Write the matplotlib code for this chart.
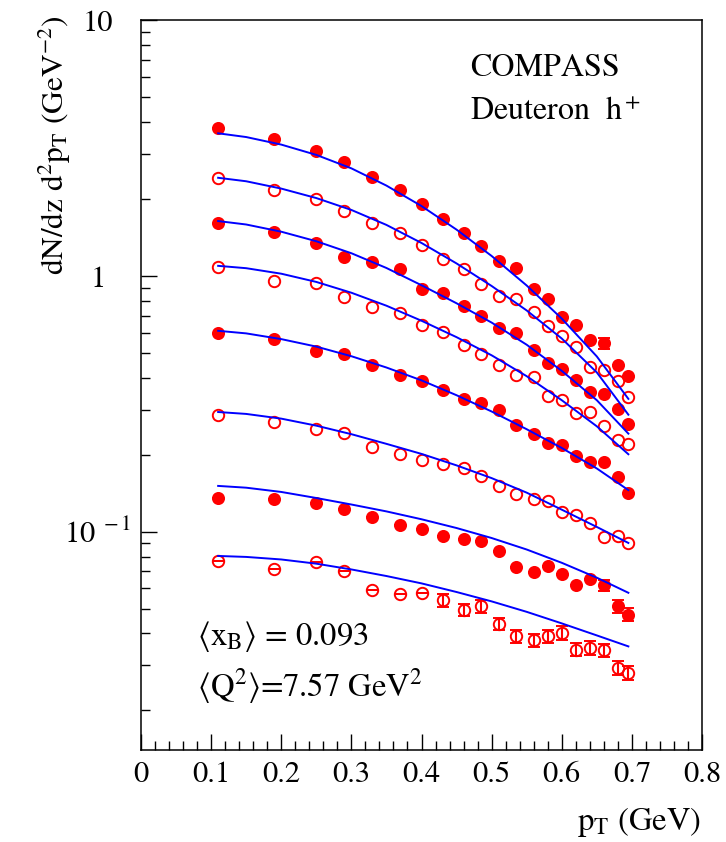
# COMPASS deuteron h+ multiplicities vs p_T, with fit curves.

import matplotlib

matplotlib.use("Agg")
import matplotlib.pyplot as plt
from matplotlib.ticker import FixedLocator, FixedFormatter, LogLocator, MultipleLocator, NullFormatter

plt.rcParams["font.family"] = "STIXGeneral"
plt.rcParams["mathtext.fontset"] = "stix"


# --- Data ---

pt = [0.11, 0.19, 0.25, 0.29, 0.33, 0.37, 0.40, 0.43, 0.46, 0.485,
      0.51, 0.535, 0.56, 0.58, 0.60, 0.62, 0.64, 0.66, 0.68, 0.695]

# z bins from top to bottom, alternating filled / open markers
mult_1 = [3.79, 3.43, 3.09, 2.79, 2.45, 2.18, 1.91, 1.667, 1.477, 1.314,
          1.145, 1.072, 0.889, 0.813, 0.693, 0.643, 0.562, 0.545, 0.448, 0.407]
mult_2 = [2.41, 2.17, 2.00, 1.796, 1.617, 1.477, 1.326, 1.162, 1.065, 0.928,
          0.837, 0.811, 0.725, 0.637, 0.584, 0.529, 0.442, 0.429, 0.389, 0.337]
mult_3 = [1.617, 1.491, 1.343, 1.190, 1.131, 1.062, 0.888, 0.856, 0.763, 0.697,
          0.627, 0.600, 0.516, 0.458, 0.433, 0.394, 0.352, 0.347, 0.302, 0.265]
mult_4 = [1.087, 0.953, 0.941, 0.825, 0.758, 0.718, 0.645, 0.602, 0.540, 0.495,
          0.448, 0.410, 0.404, 0.339, 0.329, 0.292, 0.294, 0.260, 0.228, 0.220]
mult_5 = [0.600, 0.567, 0.510, 0.498, 0.448, 0.410, 0.388, 0.358, 0.332, 0.320,
          0.299, 0.261, 0.241, 0.223, 0.218, 0.197, 0.187, 0.188, 0.163, 0.142]
mult_6 = [0.286, 0.269, 0.253, 0.244, 0.2136, 0.2023, 0.190, 0.1837, 0.1783, 0.1649,
          0.1511, 0.1402, 0.1337, 0.1317, 0.1196, 0.1160, 0.1082, 0.0954, 0.0960, 0.0904]
mult_7 = [0.1356, 0.1349, 0.1301, 0.1225, 0.1137, 0.1067, 0.1021, 0.0960, 0.0940, 0.0920,
          0.0839, 0.0728, 0.0696, 0.0733, 0.0686, 0.0617, 0.0652, 0.0617, 0.0511, 0.0474]
mult_8 = [0.0769, 0.0718, 0.0758, 0.0702, 0.0590, 0.0569, 0.0577, 0.0539, 0.0496, 0.0511,
          0.0437, 0.0390, 0.0376, 0.0390, 0.0402, 0.0346, 0.0351, 0.0344, 0.0294, 0.0281]

# relative errors (only the visible ones; the rest hide behind the markers)
rel_err_1 = [0] * 17 + [0.05, 0, 0]
rel_err_7 = [0] * 17 + [0.05, 0.055, 0.06]
rel_err_8 = [0.0] * 7 + [0.055, 0.055, 0.055, 0.055, 0.06, 0.06, 0.06,
                          0.06, 0.06, 0.06, 0.06, 0.065, 0.065]

# fit curves
pt_fit = [0.11, 0.15, 0.2, 0.25, 0.3, 0.35, 0.4, 0.45, 0.5, 0.55, 0.6, 0.65, 0.695]
fit_1 = [3.62, 3.50, 3.27, 2.98, 2.64, 2.26, 1.88, 1.52, 1.199, 0.919, 0.682, 0.485, 0.331]
fit_2 = [2.425, 2.35, 2.20, 2.02, 1.815, 1.586, 1.348, 1.121, 0.915, 0.734, 0.570, 0.420, 0.287]
fit_3 = [1.642, 1.592, 1.492, 1.369, 1.229, 1.076, 0.921, 0.783, 0.658, 0.539, 0.426, 0.327, 0.242]
fit_4 = [1.097, 1.074, 1.022, 0.949, 0.861, 0.766, 0.669, 0.577, 0.490, 0.406, 0.327, 0.2585, 0.201]
fit_5 = [0.611, 0.597, 0.567, 0.530, 0.486, 0.439, 0.391, 0.342, 0.2954, 0.2518, 0.2127, 0.1768, 0.1455]
fit_6 = [0.294, 0.289, 0.277, 0.260, 0.2408, 0.2207, 0.2016, 0.1818, 0.1621, 0.1422, 0.1220, 0.1044, 0.0904]
fit_7 = [0.1511, 0.1487, 0.1431, 0.1355, 0.1278, 0.1201, 0.1119, 0.1034, 0.0945, 0.0852, 0.0756, 0.0661, 0.0577]
fit_8 = [0.0804, 0.0797, 0.0779, 0.0750, 0.0712, 0.0671, 0.0628, 0.0581, 0.0534, 0.0486, 0.0438, 0.0393, 0.0356]

x_ticks = [0, 0.1, 0.2, 0.3, 0.4, 0.5, 0.6, 0.7, 0.8]
x_tick_labels = ["0", "0.1", "0.2", "0.3", "0.4", "0.5", "0.6", "0.7", "0.8"]
y_ticks = [0.1, 1, 10]
y_tick_labels = [r"$10^{\,\,-1}$", "1", "10"]


# --- Plotting ---


def draw_series(ax, y, filled, rel_err=None):
    err = None
    if rel_err is not None:
        err = [v * e for v, e in zip(y, rel_err)]
    ax.errorbar(
        pt, y, yerr=err,
        fmt="o", color="red", ecolor="red",
        markersize=8.0 if filled else 8.2,
        markerfacecolor="red" if filled else "none",
        markeredgewidth=1.4,
        elinewidth=1.5, capsize=4.3, capthick=1.5,
        zorder=2,
    )


fig = plt.figure(figsize=(7.26, 8.42), dpi=100)
ax = fig.add_axes([141 / 726, 1 - 750 / 842, 561 / 726, 729.5 / 842])
ax.set_yscale("log")

series = [
    (mult_1, fit_1, True, rel_err_1),
    (mult_2, fit_2, False, None),
    (mult_3, fit_3, True, None),
    (mult_4, fit_4, False, None),
    (mult_5, fit_5, True, None),
    (mult_6, fit_6, False, None),
    (mult_7, fit_7, True, rel_err_7),
    (mult_8, fit_8, False, rel_err_8),
]
for y, fit, filled, rel_err in series:
    draw_series(ax, y, filled, rel_err)
    ax.plot(pt_fit, fit, color="blue", linewidth=1.4, zorder=3)

ax.set_xlim(0, 0.8)
ax.set_ylim(0.014, 10)

ax.xaxis.set_major_locator(FixedLocator(x_ticks))
ax.xaxis.set_major_formatter(FixedFormatter(x_tick_labels))
ax.xaxis.set_minor_locator(MultipleLocator(0.02))
ax.yaxis.set_major_locator(FixedLocator(y_ticks))
ax.yaxis.set_major_formatter(FixedFormatter(y_tick_labels))
ax.yaxis.set_minor_locator(LogLocator(base=10, subs=range(2, 10)))
ax.yaxis.set_minor_formatter(NullFormatter())

ax.tick_params(which="both", direction="in", top=False, right=False, width=1.0)
ax.tick_params(which="major", length=11.5, labelsize=22)
ax.tick_params(which="minor", length=6.5)
ax.tick_params(axis="x", which="major", pad=8)
ax.tick_params(axis="y", which="major", pad=31)
for lab in ax.get_yticklabels():
    lab.set_horizontalalignment("center")
for sp in ax.spines.values():
    sp.set_linewidth(1.1)

# labels and annotations
fig.text(55 / 726, 1 - 15 / 842, r"dN/dz d$^2$p$_\mathrm{T}$ (GeV$^{-2}$)",
         rotation=90, ha="center", va="top", fontsize=22.5)
fig.text(701 / 726, 1 - 822 / 842, r"p$_\mathrm{T}$ (GeV)",
         ha="right", va="center", fontsize=23.5)
fig.text(470 / 726, 1 - 68 / 842, "COMPASS", va="center", fontsize=23)
fig.text(470 / 726, 1 - 112 / 842, r"Deuteron  h$^+$", va="center", fontsize=23)
fig.text(197 / 726, 1 - 637 / 842, r"$\langle$x$_\mathrm{B}\rangle$ = 0.093",
         va="center", fontsize=23.5)
fig.text(197 / 726, 1 - 686 / 842, r"$\langle$Q$^2\rangle$=7.57 GeV$^2$",
         va="center", fontsize=23.5)

fig.savefig("out.png", dpi=100)
